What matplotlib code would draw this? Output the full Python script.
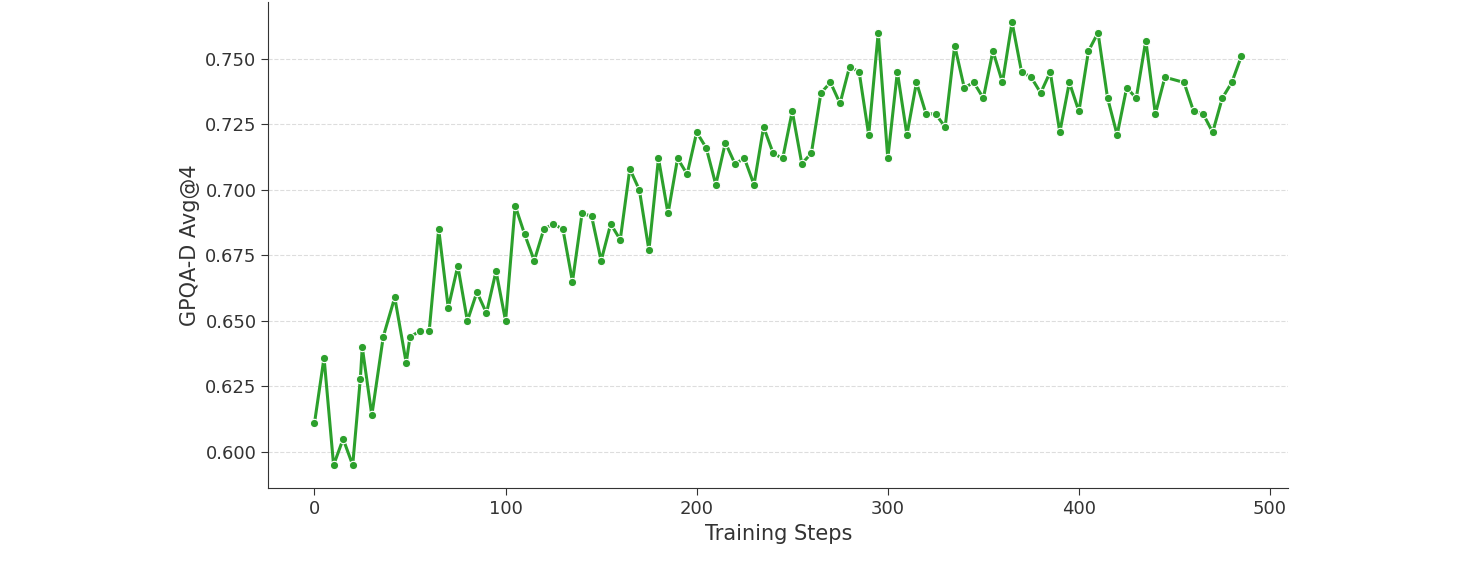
import matplotlib
matplotlib.use("Agg")
import matplotlib.pyplot as plt

steps = [0,5,10,15,20,24,25,30,36,42,48,50,55,60,65,70,75,80,85,90,95,100,105,110,115,120,125,130,135,140,145,150,155,160,165,170,175,180,185,190,195,200,205,210,215,220,225,230,235,240,245,250,255,260,265,270,275,280,285,290,295,300,305,310,315,320,325,330,335,340,345,350,355,360,365,370,375,380,385,390,395,400,405,410,415,420,425,430,435,440,445,455,460,465,470,475,480,485]
scores = [0.611,0.636,0.595,0.605,0.595,0.628,0.640,0.614,0.644,0.659,0.634,0.644,0.646,0.646,0.685,0.655,0.671,0.650,0.661,0.653,0.669,0.650,0.694,0.683,0.673,0.685,0.687,0.685,0.665,0.691,0.690,0.673,0.687,0.681,0.708,0.700,0.677,0.712,0.691,0.712,0.706,0.722,0.716,0.702,0.718,0.710,0.712,0.702,0.724,0.714,0.712,0.730,0.710,0.714,0.737,0.741,0.733,0.747,0.745,0.721,0.760,0.712,0.745,0.721,0.741,0.729,0.729,0.724,0.755,0.739,0.741,0.735,0.753,0.741,0.764,0.745,0.743,0.737,0.745,0.722,0.741,0.730,0.753,0.760,0.735,0.721,0.739,0.735,0.757,0.729,0.743,0.741,0.730,0.729,0.722,0.735,0.741,0.751]
yticks = [0.600,0.625,0.650,0.675,0.700,0.725,0.750]
xticks = [0,100,200,300,400,500]

fig = plt.figure(figsize=(14.83,5.75),dpi=100)
ax = fig.add_axes([0.181,0.151,0.6875,0.846])
ax.plot(steps,scores,color='#2ca02c',lw=2.2,marker='o',ms=6,mec='white',mew=0.8)
ax.set_xlim(-24.1,509.4)
ax.set_ylim(0.5862,0.7718)
ax.set_yticks(yticks)
ax.set_yticklabels([f"{v:.3f}" for v in yticks])
ax.set_xticks(xticks)
ax.grid(axis='y',ls='--',color='#dddddd',lw=0.8)
ax.set_axisbelow(True)
for s in ['top','right']:
    ax.spines[s].set_visible(False)
for s in ['left','bottom']:
    ax.spines[s].set_color('#333333')
ax.tick_params(labelsize=13,colors='#333333',length=5)
ax.set_xlabel('Training Steps',fontsize=15,color='#333333')
ax.set_ylabel('GPQA-D Avg@4',fontsize=15,color='#333333')
fig.savefig('out.png')
